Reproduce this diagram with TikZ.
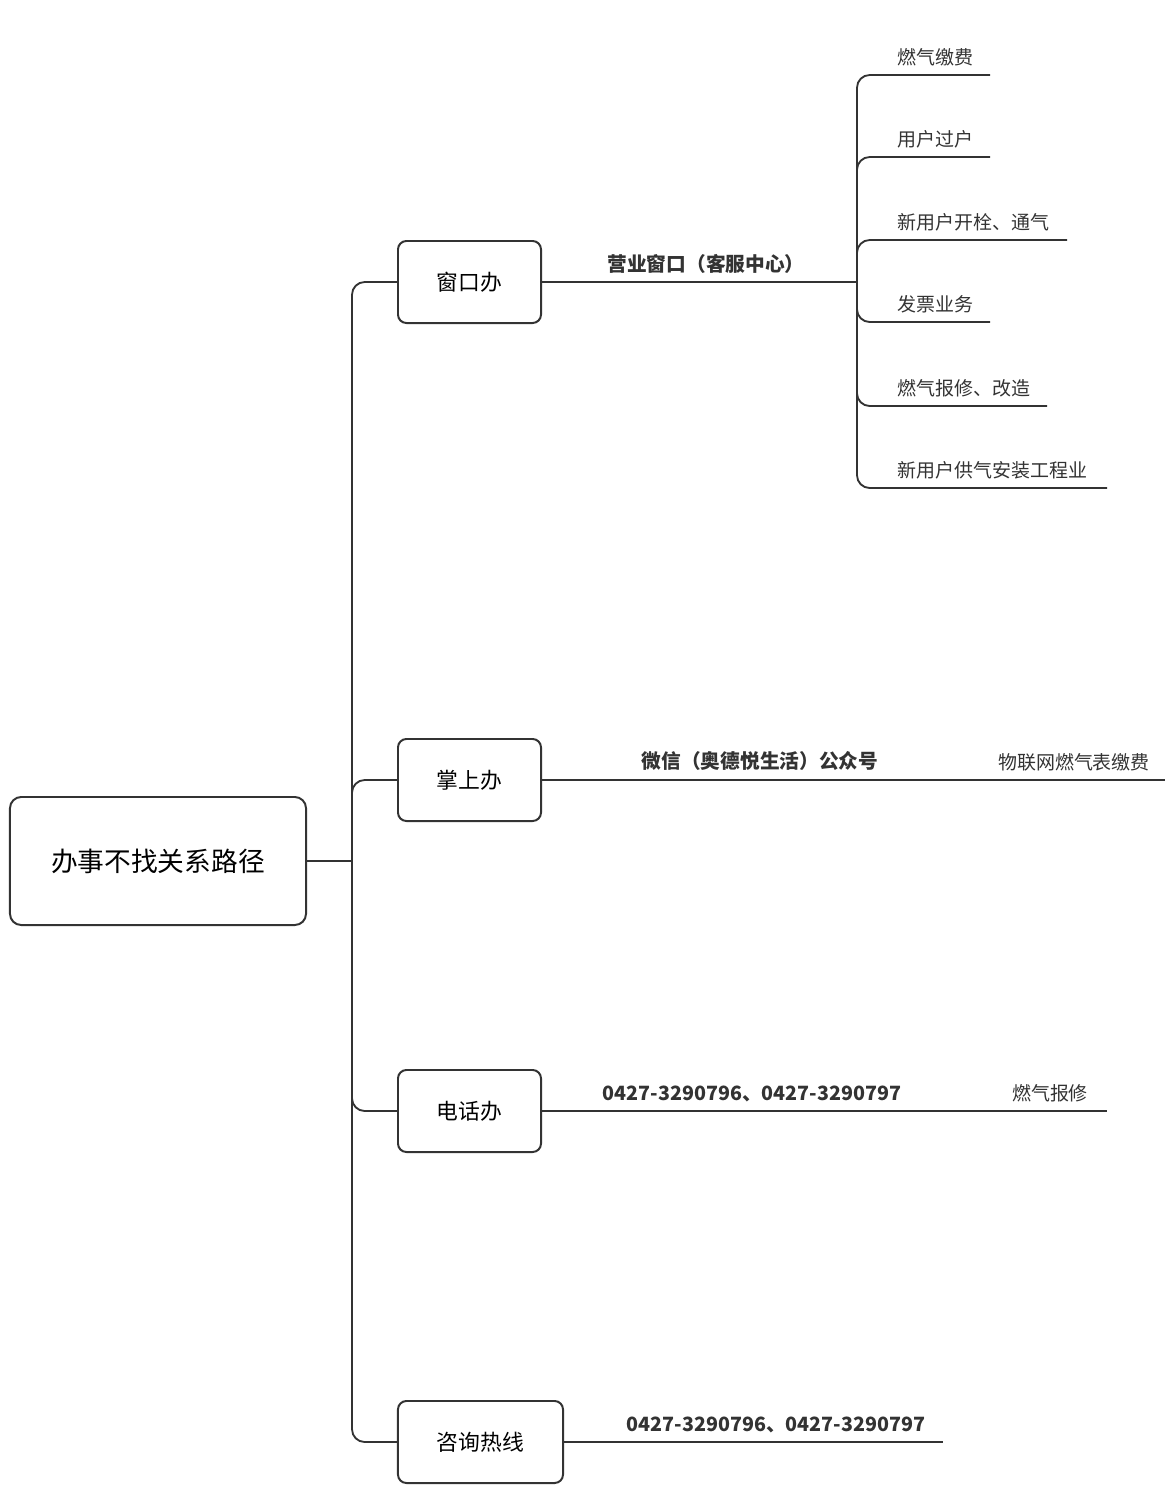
\documentclass[tikz,border=0pt]{standalone}
\usepackage{fontspec}
\setmainfont{Noto Sans CJK SC}
\usetikzlibrary{positioning}

\begin{document}
\begin{tikzpicture}[x=0.025cm,y=-0.025cm,line width=1.3pt,draw=black!80]
\tikzstyle{b}=[draw=black!80,rounded corners=6pt,line width=1.4pt,inner sep=0pt]
\tikzstyle{lab}=[font=\fontsize{14}{16}\selectfont\bfseries,anchor=south,inner sep=1pt,text=black!80]
\tikzstyle{leaf}=[font=\fontsize{13.5}{16}\selectfont,anchor=south west,inner sep=1pt,text=black!80]
\useasboundingbox (0,0) rectangle (1171,1488);
% root and the four ways
\node[b,minimum width=7.4cm,minimum height=3.2cm,font=\fontsize{19}{22}\selectfont,rounded corners=8pt] (root) at (158,861) {办事不找关系路径};
\node[b,minimum width=3.575cm,minimum height=2.05cm,font=\fontsize{15.5}{18}\selectfont] (win) at (469.5,282) {窗口办};
\node[b,minimum width=3.575cm,minimum height=2.05cm,font=\fontsize{15.5}{18}\selectfont] (palm) at (469.5,780) {掌上办};
\node[b,minimum width=3.575cm,minimum height=2.05cm,font=\fontsize{15.5}{18}\selectfont] (tel) at (469.5,1111) {电话办};
\node[b,minimum width=4.125cm,minimum height=2.05cm,font=\fontsize{15.5}{18}\selectfont] (hot) at (480.5,1442) {咨询热线};
\coordinate (trunk) at (352,861);
\draw (root.east) -- (trunk);
\foreach \n in {win,palm,tel,hot} \draw[rounded corners=9pt] (trunk) |- (\n.west);
% window: service hall and its six services
\coordinate (hub) at (857,282);
\draw (win.east) -- (hub);
\node[lab] (hall) at (706,276) {营业窗口（客服中心）};
\foreach \i/\y/\e/\t in {1/75/990/燃气缴费,2/157/990/用户过户,3/240/1067/新用户开栓、通气,4/322/990/发票业务,5/406/1047/燃气报修、改造,6/488/1107/新用户供气安装工程业} {
  \coordinate (e\i) at (\e,\y);
  \draw[rounded corners=9pt] (hub) |- (e\i);
  \node[leaf] (l\i) at (895,\y-7) {\t};
}
% palm, phone and hotline
\coordinate (palmEnd) at (1165,780);
\draw (palm.east) -- (palmEnd);
\node[lab] (wx) at (760,773) {微信（奥德悦生活）公众号};
\node[lab,font=\fontsize{13.5}{16}\selectfont] (iot) at (1074,773) {物联网燃气表缴费};
\coordinate (telEnd) at (1107,1111);
\draw (tel.east) -- (telEnd);
\node[lab] (telNo) at (752,1104) {0427-3290796、0427-3290797};
\node[lab,font=\fontsize{13.5}{16}\selectfont] (repair) at (1050,1104) {燃气报修};
\coordinate (hotEnd) at (943,1442);
\draw (hot.east) -- (hotEnd);
\node[lab] (hotNo) at (776,1435) {0427-3290796、0427-3290797};
\end{tikzpicture}
\end{document}
